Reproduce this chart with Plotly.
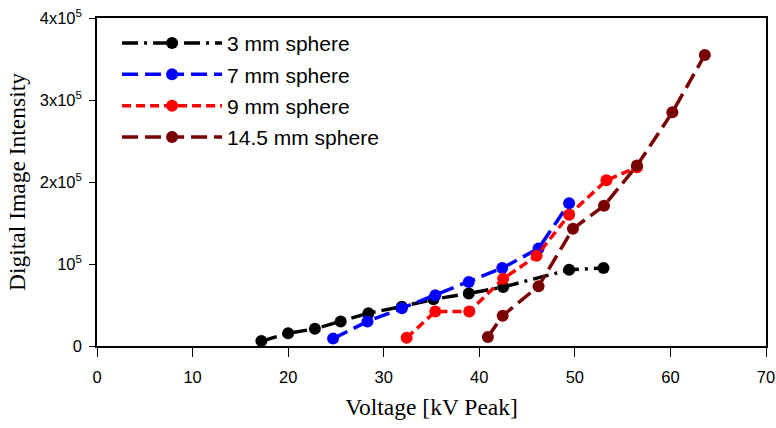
import plotly.graph_objects as go

x_3mm = [17.2, 20.0, 22.8, 25.5, 28.4, 31.9, 35.2, 38.9, 42.5, 49.4, 53.0]
y_3mm = [6000, 15500, 21000, 30000, 40000, 48000, 57000, 64000, 72000, 93000, 95000]

x_7mm = [24.7, 28.3, 31.9, 35.4, 38.9, 42.4, 46.2, 49.4]
y_7mm = [9000, 30000, 46000, 62000, 78000, 95000, 119000, 174000]

x_9mm = [32.4, 35.4, 38.95, 42.5, 46.0, 49.4, 53.3, 56.5]
y_9mm = [10000, 42000, 42000, 82000, 110000, 160000, 202000, 218000]

x_145mm = [40.9, 42.45, 46.2, 49.8, 53.05, 56.5, 60.2, 63.6]
y_145mm = [11000, 37000, 73000, 143000, 171000, 220000, 285000, 355000]

names = ["3 mm sphere", "7 mm sphere", "9 mm sphere", "14.5 mm sphere"]
colors = ["#000000", "#0000ff", "#ff0000", "#7a0000"]
dashes = ["16px,6px,3px,6px", "16px,7px", "9px,5px", "16px,7px"]

x_ticks = [0, 10, 20, 30, 40, 50, 60, 70]
y_ticks = [0, 100000, 200000, 300000, 400000]
y_ticktext = ["0", "10<sup>5</sup>", "2x10<sup>5</sup>", "3x10<sup>5</sup>", "4x10<sup>5</sup>"]

fig = go.Figure()
for i, (xs, ys, n, c, d) in enumerate(zip([x_3mm, x_7mm, x_9mm, x_145mm],
                                          [y_3mm, y_7mm, y_9mm, y_145mm],
                                          names, colors, dashes)):
    fig.add_trace(go.Scatter(x=xs, y=ys, name=n, mode="lines+markers", legendgroup=f"g{i}",
                             line=dict(color=c, width=3.5, dash=d),
                             marker=dict(color=c, size=12)))

axis_common = dict(showline=True, linecolor="black", linewidth=1.5, mirror=True,
                   ticks="outside", tickcolor="black", showgrid=False, automargin=False,
                   zeroline=False, tickfont=dict(family="Arial, Liberation Sans", size=16.5, color="black"))

fig.update_layout(
    width=776, height=428,
    margin=dict(l=97, r=10, t=18, b=82),
    plot_bgcolor="white", paper_bgcolor="white",
    xaxis=dict(range=[0, 70], tickvals=x_ticks, ticklen=9, ticklabelstandoff=6,
               title=dict(text="Voltage [kV Peak]", font=dict(family="Liberation Serif, Times New Roman", size=23.5, color="black"), standoff=14),
               **axis_common),
    yaxis=dict(range=[0, 400000], tickvals=y_ticks, ticktext=y_ticktext, ticklen=6, ticklabelstandoff=4,
               title=dict(text="Digital Image Intensity", font=dict(family="Liberation Serif, Times New Roman", size=23.5, color="black"), standoff=8),
               **axis_common),
    legend=dict(x=0.03, y=0.985, xanchor="left", yanchor="top", bgcolor="rgba(0,0,0,0)",
                font=dict(family="Arial, Liberation Sans", size=21, color="black"),
                itemwidth=100, tracegroupgap=1),
    showlegend=True,
)

fig.write_html("out.html")
